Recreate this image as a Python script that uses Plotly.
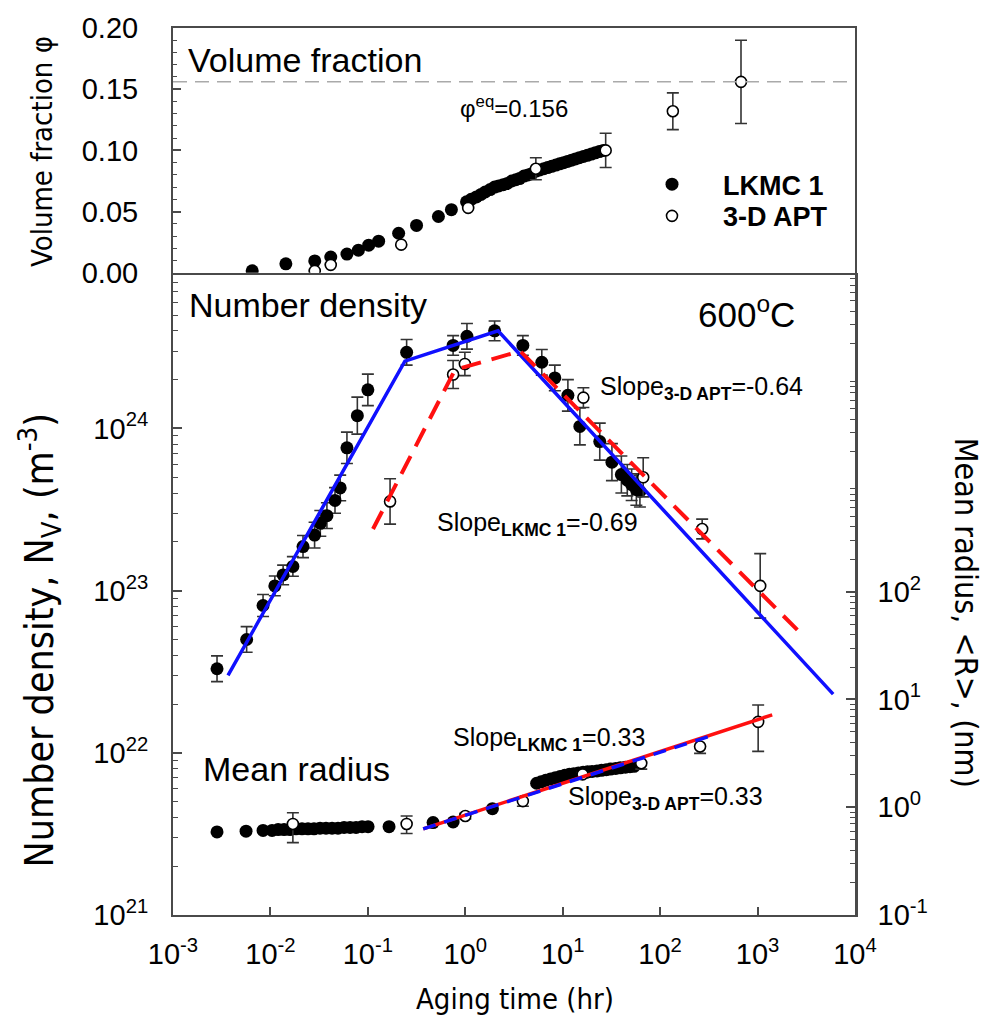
import plotly.graph_objects as go

# ------------------------------------------------------------------ data
X_TICKS = [1e-3, 1e-2, 1e-1, 1e0, 1e1, 1e2, 1e3, 1e4]
X_TICKTEXT = ["10<sup>-3</sup>", "10<sup>-2</sup>", "10<sup>-1</sup>", "10<sup>0</sup>",
              "10<sup>1</sup>", "10<sup>2</sup>", "10<sup>3</sup>", "10<sup>4</sup>"]
NV_TICKS = [1e21, 1e22, 1e23, 1e24]
NV_TICKTEXT = ["10<sup>21</sup>", "10<sup>22</sup>", "10<sup>23</sup>", "10<sup>24</sup>"]
R_TICKS = [0.1, 1, 10, 100]
R_TICKTEXT = ["10<sup>-1</sup>", "10<sup>0</sup>", "10<sup>1</sup>", "10<sup>2</sup>"]

PHI_EQ = 0.156

# volume fraction, LKMC 1
VF_LKMC_T = [0.0065, 0.0144, 0.0285, 0.0416, 0.061, 0.080, 0.102, 0.129, 0.207, 0.316, 0.53, 0.72,
             1.03, 1.15, 1.3, 1.45, 1.6, 1.8, 2.0, 2.2, 2.45, 2.7, 3.0, 3.3, 3.6, 4.0, 4.4, 4.8,
             5.3, 5.8, 6.4, 7.0, 7.7, 8.5, 9.3, 10.2, 11.2, 12.3, 13.5, 14.8, 16.3, 17.9, 19.7,
             21.6, 23.8, 26.1]
VF_LKMC = [0.0016, 0.0073, 0.0097, 0.0129, 0.0153, 0.0185, 0.0226, 0.0258, 0.0323, 0.0387, 0.046, 0.0516,
           0.058, 0.060, 0.062, 0.064, 0.066, 0.068, 0.070, 0.071, 0.072, 0.073, 0.075, 0.076, 0.077,
           0.079, 0.080, 0.081, 0.083, 0.084, 0.085, 0.086, 0.087, 0.088, 0.089, 0.090, 0.091, 0.092,
           0.093, 0.094, 0.095, 0.096, 0.097, 0.098, 0.099, 0.100]
# volume fraction, 3-D APT
VF_APT_T = [0.0285, 0.0416, 0.22, 1.07, 5.3, 27.6, 135, 676]
VF_APT = [0.0016, 0.0065, 0.023, 0.053, 0.085, 0.100, 0.132, 0.156]
VF_APT_ERR = [0, 0, 0, 0, 0.009, 0.014, 0.015, 0.034]

# number density, LKMC 1
NV_LKMC_T = [0.00283, 0.0057, 0.0084, 0.0111, 0.0135, 0.017, 0.0216, 0.0284, 0.0325, 0.038,
             0.046, 0.052, 0.061, 0.078, 0.100, 0.25, 0.75, 1.04, 2.0,
             3.9, 6.1, 8.3, 11.3, 15.0, 24.0, 32.0, 40.0, 46.0, 51.0, 57.0, 62.0]
NV_LKMC = [3.3e22, 5.0e22, 8.1e22, 1.07e23, 1.25e23, 1.41e23, 1.87e23, 2.2e23, 2.6e23, 2.9e23,
           3.6e23, 4.3e23, 7.6e23, 1.2e24, 1.73e24, 2.95e24, 3.25e24, 3.7e24, 4.0e24,
           3.25e24, 2.56e24, 2.05e24, 1.6e24, 1.03e24, 8.3e23, 6.2e23, 5.2e23, 4.8e23, 4.5e23, 4.2e23, 4.1e23]
NV_LKMC_ERR = [0.20, 0.20, 0.17, 0.15, 0.15, 0.15, 0.17, 0.20, 0.20, 0.20,
               0.20, 0.20, 0.25, 0.30, 0.25, 0.20, 0.15, 0.20, 0.15,
               0.15, 0.20, 0.20, 0.25, 0.30, 0.30, 0.30, 0.30, 0.25, 0.25, 0.25, 0.25]
# number density, 3-D APT
NV_APT_T = [0.169, 0.75, 0.99, 16.3, 67, 270, 1064]
NV_APT = [3.55e23, 2.15e24, 2.5e24, 1.55e24, 5.0e23, 2.4e23, 1.07e23]
NV_APT_ERR = [0.38, 0.22, 0.18, 0.15, 0.32, 0.15, 0.58]

# mean radius (nm), LKMC 1
R_LKMC_T = [0.00283, 0.00562, 0.0084, 0.0104, 0.0120, 0.0138, 0.0159, 0.0183, 0.0211, 0.0243,
            0.0280, 0.0323, 0.0372, 0.0429, 0.0494, 0.0570, 0.0657, 0.0757, 0.0872, 0.1005, 0.165,
            0.467, 0.75, 1.9, 5.4, 6.0, 6.7, 7.5, 8.4, 9.4, 10.5, 11.7, 13.0, 14.5, 16.2, 18.0,
            20.0, 22.5, 25.0, 28.0, 31.0, 35.0, 39.0, 44.0, 49.0, 54.0]
R_LKMC = [0.59, 0.60, 0.61, 0.61, 0.62, 0.62, 0.62, 0.63, 0.63, 0.63,
          0.63, 0.64, 0.64, 0.64, 0.64, 0.65, 0.65, 0.65, 0.66, 0.66, 0.66,
          0.72, 0.73, 0.97, 1.67, 1.72, 1.78, 1.83, 1.88, 1.93, 1.98, 2.02, 2.05, 2.08, 2.11, 2.13,
          2.15, 2.17, 2.20, 2.23, 2.26, 2.29, 2.32, 2.35, 2.38, 2.40]
# mean radius (nm), 3-D APT
R_APT_T = [0.017, 0.25, 1.0, 3.9, 16, 64, 257, 1014]
R_APT = [0.70, 0.70, 0.83, 1.14, 2.02, 2.56, 3.66, 6.2]
R_APT_ERR_UP = [0.19, 0.13, 0.05, 0.03, 0.08, 0.05, 0.03, 2.7]
R_APT_ERR_DN = [0.23, 0.13, 0.05, 0.12, 0.15, 0.30, 0.50, 2.9]

# fitted power-law segments (knots)
FIT_NV_LKMC_T = [0.00367, 0.24, 2.17, 5970]
FIT_NV_LKMC = [3.0e22, 2.6e24, 4.0e24, 2.3e22]
FIT_NV_APT_T = [0.113, 0.785, 3.66, 2735]
FIT_NV_APT = [2.4e23, 2.3e24, 3.0e24, 5.5e22]
FIT_R_LKMC_T = [0.37, 1413]
FIT_R_LKMC = [0.63, 7.2]
FIT_R_APT_T = [0.37, 309]
FIT_R_APT = [0.63, 4.5]

# ------------------------------------------------------------------ layout geometry
W, H = 988, 1022
L, R, T, B = 173, 855, 20, 915          # plot area in pixels
SPLIT = 267                              # boundary between panels


def px(xp):
    return (xp - L) / (R - L)


def py(yp):
    return (B - yp) / (B - T)


FONT = "Arial, Liberation Sans, sans-serif"
NARROW = "Liberation Sans Narrow, Arial Narrow, DejaVu Sans Condensed, sans-serif"
AX = "#4a4a4a"
ERRC = "#333333"


def logerr(vals, fr):
    up = [v * f for v, f in zip(vals, fr)]
    dn = [v * f / (1 + f) for v, f in zip(vals, fr)]
    return up, dn


fig = go.Figure()

# ---------------- top panel: volume fraction
fig.add_trace(go.Scatter(
    x=VF_LKMC_T, y=VF_LKMC, xaxis="x2", yaxis="y2", mode="markers", name="<b>LKMC 1</b>",
    marker=dict(symbol="circle", size=13, color="black", line=dict(width=0)),
    showlegend=True, legend="legend"))
fig.add_trace(go.Scatter(
    x=VF_APT_T, y=VF_APT, xaxis="x2", yaxis="y2", mode="markers", name="<b>3-D APT</b>",
    marker=dict(symbol="circle", size=11, color="white", line=dict(width=1.6, color="black")),
    error_y=dict(type="data", array=VF_APT_ERR, color=ERRC, thickness=1.6, width=6),
    showlegend=True, legend="legend2"))

# ---------------- bottom panel: number density
up, dn = logerr(NV_LKMC, NV_LKMC_ERR)
fig.add_trace(go.Scatter(
    x=NV_LKMC_T, y=NV_LKMC, xaxis="x", yaxis="y", mode="markers", showlegend=False,
    marker=dict(size=13, color="black"),
    error_y=dict(type="data", array=up, arrayminus=dn, color=ERRC, thickness=1.6, width=6)))
up, dn = logerr(NV_APT, NV_APT_ERR)
fig.add_trace(go.Scatter(
    x=NV_APT_T, y=NV_APT, xaxis="x", yaxis="y", mode="markers", showlegend=False,
    marker=dict(size=11, color="white", line=dict(width=1.6, color="black")),
    error_y=dict(type="data", array=up, arrayminus=dn, color=ERRC, thickness=1.6, width=6)))
fig.add_trace(go.Scatter(
    x=FIT_NV_LKMC_T, y=FIT_NV_LKMC, xaxis="x", yaxis="y", mode="lines", showlegend=False,
    line=dict(color="#1010ff", width=3.5)))
fig.add_trace(go.Scatter(
    x=FIT_NV_APT_T, y=FIT_NV_APT, xaxis="x", yaxis="y", mode="lines", showlegend=False,
    line=dict(color="#ff1010", width=4, dash="20px,11px")))

# ---------------- bottom panel: mean radius (right axis)
fig.add_trace(go.Scatter(
    x=R_LKMC_T, y=R_LKMC, xaxis="x", yaxis="y3", mode="markers", showlegend=False,
    marker=dict(size=13, color="black")))
fig.add_trace(go.Scatter(
    x=R_APT_T, y=R_APT, xaxis="x", yaxis="y3", mode="markers", showlegend=False,
    marker=dict(size=11, color="white", line=dict(width=1.6, color="black")),
    error_y=dict(type="data", array=R_APT_ERR_UP, arrayminus=R_APT_ERR_DN,
                 color=ERRC, thickness=1.6, width=6)))
fig.add_trace(go.Scatter(
    x=FIT_R_LKMC_T, y=FIT_R_LKMC, xaxis="x", yaxis="y3", mode="lines", showlegend=False,
    line=dict(color="#ff1010", width=3.5)))
fig.add_trace(go.Scatter(
    x=FIT_R_APT_T, y=FIT_R_APT, xaxis="x", yaxis="y3", mode="lines", showlegend=False,
    line=dict(color="#1010ff", width=3.5, dash="13px,9px")))

# ---------------- axes
split = py(SPLIT)
tickfont = dict(family=FONT, size=29, color="black")

minor_log_nv = [float(k) * 10.0 ** e for e in range(21, 25) for k in range(2, 10)]
minor_log_r = [float(k) * 10.0 ** e for e in range(-1, 5) for k in range(2, 10)]

legend_common = dict(xanchor="left", yanchor="middle", bgcolor="rgba(0,0,0,0)", borderwidth=0,
                     font=dict(family=FONT, size=27, color="black"), itemwidth=92)

fig.update_layout(
    width=W, height=H,
    margin=dict(l=L, r=W - R, t=T, b=H - B, pad=0),
    paper_bgcolor="white", plot_bgcolor="white",
    xaxis=dict(type="log", range=[-3, 4], domain=[0, 1], anchor="y",
               tickmode="array", tickvals=X_TICKS, ticktext=X_TICKTEXT,
               ticks="inside", ticklen=8, tickwidth=1.5, tickcolor=AX,
               showline=True, linecolor=AX, linewidth=2, mirror=False,
               showgrid=False, zeroline=False, tickfont=tickfont, ticklabelstandoff=12),
    xaxis2=dict(type="log", range=[-3, 4], domain=[0, 1], anchor="y2", matches="x",
                showticklabels=False, ticks="", showline=True, linecolor=AX, linewidth=2,
                mirror=True, showgrid=False, zeroline=False),
    yaxis=dict(type="log", range=[21, 24.96], domain=[0, split], anchor="x",
               tickmode="array", tickvals=NV_TICKS, ticktext=NV_TICKTEXT,
               ticks="inside", ticklen=9, tickwidth=1.5, tickcolor=AX,
               minor=dict(tickmode="array", tickvals=minor_log_nv, ticks="inside", ticklen=5,
                          tickwidth=1, tickcolor=AX, showgrid=False),
               showline=True, linecolor=AX, linewidth=2, showgrid=False, zeroline=False,
               tickfont=tickfont, ticklabelstandoff=17),
    yaxis2=dict(range=[0, 0.2], domain=[split, 1], anchor="x2",
                tickmode="array", tickvals=[0, 0.05, 0.10, 0.15, 0.20], tickformat=".2f",
                ticks="inside", ticklen=8, tickwidth=1.5, tickcolor=AX,
                minor=dict(dtick=0.01, ticks="inside", ticklen=4, tickwidth=1, tickcolor=AX,
                           showgrid=False),
                showline=True, linecolor=AX, linewidth=2, mirror=True,
                showgrid=False, zeroline=False, tickfont=tickfont, ticklabelstandoff=27),
    yaxis3=dict(type="log", range=[-1, 4.96], overlaying="y", side="right", anchor="x",
                tickmode="array", tickvals=R_TICKS, ticktext=R_TICKTEXT,
                ticks="inside", ticklen=9, tickwidth=1.5, tickcolor=AX,
                minor=dict(tickmode="array", tickvals=minor_log_r, ticks="inside", ticklen=5,
                           tickwidth=1, tickcolor=AX, showgrid=False),
                showline=True, linecolor=AX, linewidth=2.5, showgrid=False, zeroline=False,
                tickfont=tickfont, ticklabelstandoff=14),
    legend=dict(x=px(621), y=py(178), **legend_common),
    legend2=dict(x=px(621), y=py(210), **legend_common),
    showlegend=True,
)

# dashed equilibrium line
fig.add_shape(type="line", xref="x2 domain", yref="y2", x0=0, x1=1, y0=PHI_EQ, y1=PHI_EQ,
              line=dict(color="#aaaaaa", width=1.5, dash="14px,8px"))

# ---------------- text annotations
def ann(text, xp, yp, size, xanchor="left", family=FONT, angle=0, yanchor="middle"):
    fig.add_annotation(text=text, x=px(xp), y=py(yp), xref="paper", yref="paper",
                       showarrow=False, xanchor=xanchor, yanchor=yanchor, textangle=angle,
                       font=dict(family=family, size=size, color="black"))

ann("Volume fraction", 186, 52, 34)
ann("φ<sup>eq</sup>=0.156", 458, 100, 24)
ann("Number density", 187, 300, 34)
ann("600<sup>o</sup>C", 696, 307, 35)
ann("Slope<sub><b>3-D APT</b></sub>=-0.64", 598, 383, 25)
ann("Slope<sub><b>LKMC 1</b></sub>=-0.69", 435, 520, 25)
ann("Slope<sub><b>LKMC 1</b></sub>=0.33", 451, 737, 25)
ann("Slope<sub><b>3-D APT</b></sub>=0.33", 566, 797, 25)
ann("Mean radius", 201, 768, 34)

# axis titles
ann("Volume fraction φ", 42, 145, 29, xanchor="center", family=NARROW, angle=-90)
ann("Number density, N<sub>V</sub>, (m<sup>-3</sup>)", 40, 638, 39, xanchor="center",
    family=NARROW, angle=-90)
ann("Mean radius, <R>, (nm)", 966, 610, 32, xanchor="center", family=NARROW, angle=90)
ann("Aging time (hr)", 515, 1000, 29, xanchor="center", family=NARROW)

fig.write_html("out.html")
